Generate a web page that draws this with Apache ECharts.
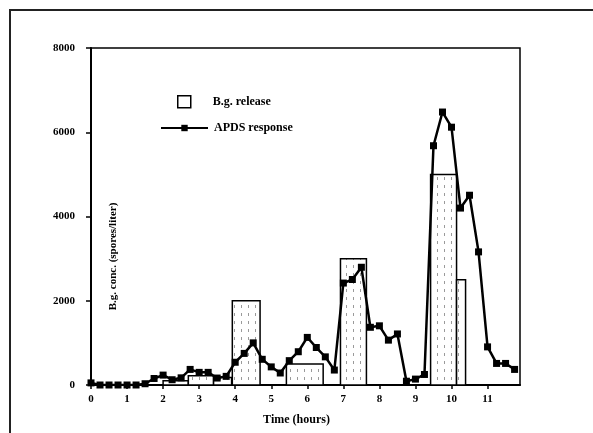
<!DOCTYPE html>
<html>
<head>
<meta charset="utf-8">
<script src="https://cdn.jsdelivr.net/npm/echarts@6/dist/echarts.min.js"></script>
<style>
html,body{margin:0;padding:0;background:#fff;}
#chart{width:593px;height:433px;}
</style>
</head>
<body>
<div id="chart"></div>
<script>
// ---- data ----
var xTicks = [0, 1, 2, 3, 4, 5, 6, 7, 8, 9, 10, 11];
var yTicks = [0, 2000, 4000, 6000, 8000];

var apdsTimes = [0, 0.25, 0.5, 0.75, 1, 1.25, 1.5, 1.75, 2, 2.25, 2.5, 2.75,
  3, 3.25, 3.5, 3.75, 4, 4.25, 4.5, 4.75, 5, 5.25, 5.5, 5.75,
  6, 6.25, 6.5, 6.75, 7, 7.25, 7.5, 7.75, 8, 8.25, 8.5, 8.75,
  9, 9.25, 9.5, 9.75, 10, 10.25, 10.5, 10.75, 11, 11.25, 11.5, 11.75];
var apdsValues = [50, 0, 0, 0, 0, 0, 30, 155, 235, 125, 170, 370,
  300, 300, 165, 205, 540, 750, 1000, 610, 430, 285, 578, 790,
  1130, 890, 668, 355, 2420, 2505, 2795, 1370, 1405, 1065, 1212, 90,
  140, 250, 5680, 6480, 6120, 4200, 4505, 3160, 905, 512, 512, 370];

var releaseStart = [2.0, 2.7, 3.4, 3.92, 5.42, 6.92, 9.42, 10.14];
var releaseEnd = [2.7, 3.4, 3.9, 4.69, 6.44, 7.64, 10.14, 10.39];
var releaseValues = [100, 220, 180, 2000, 500, 3000, 5000, 2500];

var names = { release: 'B.g. release', apds: 'APDS response', x: 'Time (hours)', y: 'B.g. conc. (spores/liter)' };

// ---- build ----
var lineData = apdsTimes.map(function (t, i) { return [t, apdsValues[i]]; });
var barData = releaseStart.map(function (s, i) { return [s, releaseEnd[i], releaseValues[i]]; });

// dotted fill pattern
var pc = document.createElement('canvas');
pc.width = 7; pc.height = 8;
var pctx = pc.getContext('2d');
pctx.fillStyle = '#fff'; pctx.fillRect(0, 0, 7, 8);
pctx.fillStyle = '#9a9a9a'; pctx.fillRect(3, 1, 1, 3);
var pattern = { image: pc, repeat: 'repeat' };

var serif = '"Liberation Serif", "DejaVu Serif", serif';
var chart = echarts.init(document.getElementById('chart'), null, { renderer: 'canvas' });

chart.setOption({
  animation: false,
  backgroundColor: '#fff',
  textStyle: { fontFamily: serif },
  grid: { left: 91, right: 73, top: 48, bottom: 48, show: true, borderColor: '#000', borderWidth: 1.5, backgroundColor: 'transparent' },
  legend: [
    {
      data: [{ name: names.release, icon: 'rect' }],
      left: 172, top: 90, itemWidth: 13, itemHeight: 12,
      itemStyle: { color: '#fff', borderColor: '#000', borderWidth: 1.5 },
      textStyle: { fontFamily: serif, fontWeight: 'bold', fontSize: 12, color: '#000', padding: [0, 0, 0, 17] }
    },
    {
      data: [names.apds],
      left: 155, top: 117, itemWidth: 47, itemHeight: 8,
      textStyle: { fontFamily: serif, fontWeight: 'bold', fontSize: 12, color: '#000', padding: [0, 0, 0, 1] }
    }
  ],
  xAxis: {
    type: 'value', min: 0, max: 11.9,
    name: names.x, nameLocation: 'middle', nameGap: 29,
    nameTextStyle: { fontFamily: serif, fontWeight: 'bold', fontSize: 12, color: '#000', padding: [0, 18, 0, 0] },
    axisLine: { show: true, onZero: false, lineStyle: { color: '#000', width: 2 } },
    axisTick: { show: true, length: 4, customValues: xTicks, lineStyle: { color: '#000', width: 1.5 } },
    axisLabel: { customValues: xTicks, margin: 9, fontFamily: serif, fontWeight: 'bold', fontSize: 11, color: '#000' },
    splitLine: { show: false }
  },
  yAxis: {
    type: 'value', min: 0, max: 8000, interval: 2000,
    name: names.y, nameLocation: 'middle', nameGap: -28, nameRotate: 90,
    nameTextStyle: { fontFamily: serif, fontWeight: 'bold', fontSize: 11, color: '#000', padding: [0, 80, 0, 0] },
    axisLine: { show: true, lineStyle: { color: '#000', width: 2 } },
    axisTick: { show: true, length: 5, customValues: yTicks, lineStyle: { color: '#000', width: 1.5 } },
    axisLabel: { customValues: yTicks, margin: 16, fontFamily: serif, fontWeight: 'bold', fontSize: 11, color: '#000',
      formatter: function (v) { return String(v); } },
    splitLine: { show: false }
  },
  graphic: [
    { type: 'polyline', shape: { points: [[10, 433], [10, 10], [593, 10]] }, style: { stroke: '#222', lineWidth: 2, fill: null }, silent: true }
  ],
  series: [
    {
      name: names.release, type: 'custom', z: 1,
      itemStyle: { color: '#fff', borderColor: '#000', borderWidth: 1.5 },
      encode: { x: [0, 1], y: 2 },
      data: barData,
      renderItem: function (params, api) {
        var p0 = api.coord([api.value(0), api.value(2)]);
        var p1 = api.coord([api.value(1), 0]);
        return {
          type: 'rect',
          shape: { x: p0[0], y: p0[1], width: p1[0] - p0[0], height: p1[1] - p0[1] },
          style: { fill: pattern, stroke: '#000', lineWidth: 1.5 }
        };
      }
    },
    {
      name: names.apds, type: 'line', z: 3,
      data: lineData,
      symbol: 'rect', symbolSize: 7, showSymbol: true,
      lineStyle: { color: '#000', width: 2.5 },
      itemStyle: { color: '#000' }
    }
  ]
});
</script>
</body>
</html>
